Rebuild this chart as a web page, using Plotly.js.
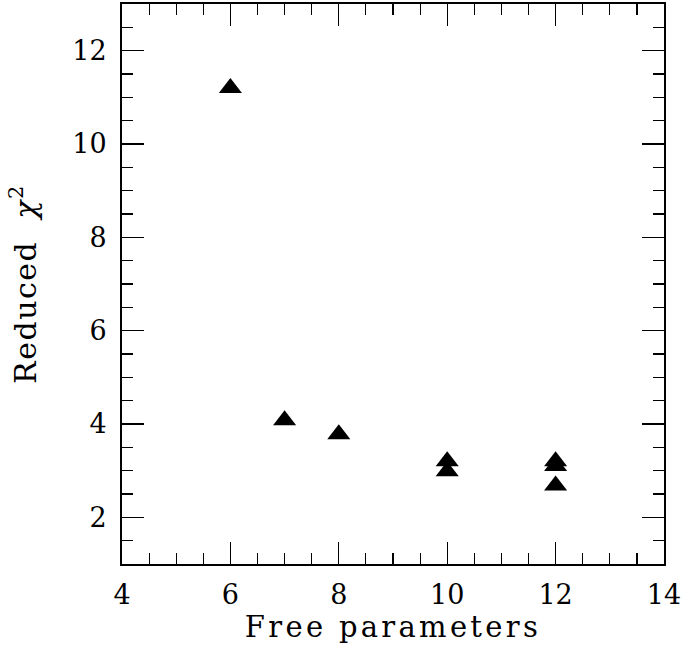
<!DOCTYPE html>
<html>
<head>
<meta charset="utf-8">
<script src="https://cdn.plot.ly/plotly-3.0.1.min.js"></script>
<style>
  html, body { margin: 0; padding: 0; background: #fff; }
  #chart { width: 686px; height: 663px; }
  .xtitle { letter-spacing: 3.3px; }
  .ytitle { letter-spacing: 1.5px; }
</style>
</head>
<body>
<div id="chart"></div>
<script>
const freeParameters = [6, 7, 8, 10, 10, 12, 12, 12];
const reducedChi2 = [11.2, 4.08, 3.78, 3.2, 2.99, 3.2, 3.1, 2.68];
const xTickVals = [4, 6, 8, 10, 12, 14];
const yTickVals = [2, 4, 6, 8, 10, 12];

const fontFam = '"DejaVu Serif", serif';

const trace = {
  x: freeParameters,
  y: reducedChi2,
  type: 'scatter',
  mode: 'markers',
  marker: { symbol: 'triangle-up', size: 20, color: '#000', line: { width: 0 } },
  hoverinfo: 'skip'
};

const axisCommon = {
  showgrid: false,
  zeroline: false,
  showline: true,
  linecolor: '#000',
  linewidth: 2,
  mirror: 'ticks',
  ticks: 'inside',
  ticklen: 22,
  tickwidth: 1.2,
  tickcolor: '#000',
  tickfont: { family: fontFam, size: 27, color: '#000' },
  minor: { dtick: 0.5, ticks: 'inside', ticklen: 11, tickwidth: 1.2, tickcolor: '#000', showgrid: false }
};

const layout = {
  width: 686,
  height: 663,
  margin: { l: 122, r: 22, t: 4, b: 99 },
  paper_bgcolor: '#fff',
  plot_bgcolor: '#fff',
  showlegend: false,
  font: { family: fontFam, color: '#000' },
  xaxis: Object.assign({}, axisCommon, {
    range: [4, 14],
    tickmode: 'array',
    tickvals: xTickVals,
    ticktext: xTickVals.map(String),
    ticklabelstandoff: 6,
    title: { text: 'Free parameters', font: { family: fontFam, size: 29, color: '#000' }, standoff: 6 }
  }),
  yaxis: Object.assign({}, axisCommon, {
    range: [1, 13],
    tickmode: 'array',
    tickvals: yTickVals,
    ticktext: yTickVals.map(String),
    ticklabelstandoff: 8,
    title: { text: 'Reduced  <i>χ</i><sup>2</sup>', font: { family: fontFam, size: 30, color: '#000' }, standoff: 27 }
  })
};

Plotly.newPlot('chart', [trace], layout, { displayModeBar: false, staticPlot: true });
</script>
</body>
</html>
